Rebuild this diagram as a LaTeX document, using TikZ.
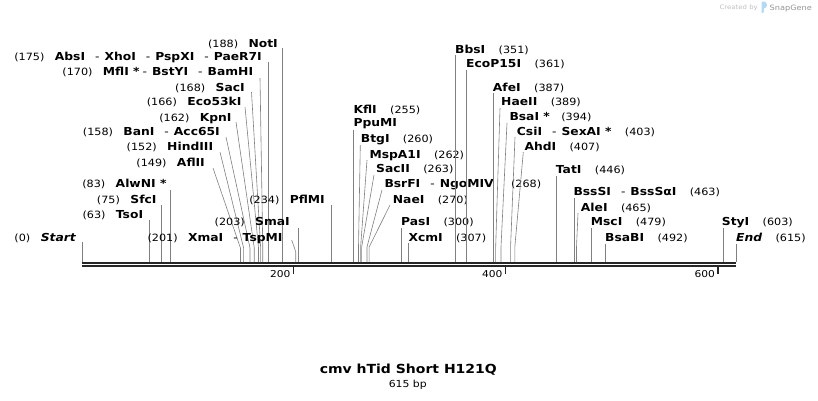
\documentclass[tikz,border=0pt]{standalone}
\usepackage{fontspec}
\usetikzlibrary{calc, positioning}
\newfontfamily\snapfont[FakeStretch=1.12]{DejaVu Sans}
\colorlet{colour_line}{black!50}
\colorlet{colour_dna}{black!85}
\definecolor{colour_mark}{HTML}{B3D9F5}
\newcommand{\es}{\hspace{10pt}{\mdseries -}\hspace{5pt}}

\begin{document}
\begin{tikzpicture}
   [
      x=1pt, y=-1pt,
      enzyme/.style={font=\snapfont\bfseries\fontsize{11}{13}\selectfont, inner sep=0pt},
      cutpos/.style={font=\snapfont\fontsize{10}{12}\selectfont, inner sep=0pt},
      cut line/.style={colour_line, line width=0.6pt},
      backbone/.style={line width=2pt, colour_dna},
      scale tick/.style={line width=1.3pt, colour_dna},
      tick label/.style={font=\snapfont\fontsize{9.5}{11}\selectfont, inner sep=0pt},
   ]
   \useasboundingbox (0,0) rectangle (818,400);

   % =======================================================
   % Cut sites on the sequence (bp -> px)
   % =======================================================
   \begin{scope}[xshift=82pt, x=1.06341pt]
      \coordinate (sStart) at (0,262);
      \coordinate (sTsoI) at (63,262);
      \coordinate (sSfcI) at (75,262);
      \coordinate (sAlwNI) at (83,262);
      \coordinate (sAflII) at (149,262);
      \coordinate (sHindIII) at (152,262);
      \coordinate (sBanI) at (158,262);
      \coordinate (sKpnI) at (162,262);
      \coordinate (sEco53kI) at (166,262);
      \coordinate (sSacI) at (168,262);
      \coordinate (sMflI) at (170,262);
      \coordinate (sAbsI) at (175,262);
      \coordinate (sNotI) at (188,262);
      \coordinate (sXmaI) at (201,262);
      \coordinate (sSmaI) at (203,262);
      \coordinate (sPflMI) at (234,262);
      \coordinate (sKflI) at (255,262);
      \coordinate (sBtgI) at (260,262);
      \coordinate (sMspA1I) at (262,262);
      \coordinate (sSacII) at (263,262);
      \coordinate (sBsrFI) at (268,262);
      \coordinate (sNaeI) at (270,262);
      \coordinate (sPasI) at (300,262);
      \coordinate (sXcmI) at (307,262);
      \coordinate (sBbsI) at (351,262);
      \coordinate (sEcoP15I) at (361,262);
      \coordinate (sAfeI) at (387,262);
      \coordinate (sHaeII) at (389,262);
      \coordinate (sBsaI) at (394,262);
      \coordinate (sCsiI) at (403,262);
      \coordinate (sAhdI) at (407,262);
      \coordinate (sTatI) at (446,262);
      \coordinate (sBssSI) at (463,262);
      \coordinate (sAleI) at (465,262);
      \coordinate (sMscI) at (479,262);
      \coordinate (sBsaBI) at (492,262);
      \coordinate (sStyI) at (603,262);
      \coordinate (sEnd) at (615,262);
   \end{scope}

   % =======================================================
   % Backbone and scale
   % =======================================================
   \draw[backbone] ($(sStart)+(0,1)$) -- ($(sEnd)+(0,1)$);
   \draw[backbone] ($(sStart)+(0,4)$) -- ($(sEnd)+(0,4)$);

   \coordinate (t200) at (293.7,267);
   \coordinate (t400) at (505.5,267);
   \coordinate (t600) at (718,267);
   \draw[scale tick] (t200) -- ++(0,6.5);
   \draw[scale tick] (t400) -- ++(0,6.5);
   \draw[scale tick] (t600) -- ++(0,6.5);
   \node[tick label, anchor=base east] (l200) at ($(t200)+(-3,10.5)$) {200};
   \node[tick label, anchor=base east] (l400) at ($(t400)+(-3,10.5)$) {400};
   \node[tick label, anchor=base east] (l600) at ($(t600)+(-3,10.5)$) {600};

   % =======================================================
   % Labels left of their sites
   % =======================================================
   \node[enzyme, anchor=base east] (nNotI) at (278,47.3) {NotI};
   \node[cutpos, base left=10pt of nNotI] (pNotI) {(188)};
   \draw[cut line] ($(sNotI |- nNotI.base)+(0,1)$) -- (sNotI);

   \node[enzyme, anchor=base east] (nAbsI) at (262,60) {AbsI\es XhoI\es PspXI\es PaeR7I};
   \node[cutpos, base left=10pt of nAbsI] (pAbsI) {(175)};
   \draw[cut line] ($(sAbsI |- nAbsI.base)+(0,2)$) -- (sAbsI);

   \node[enzyme, anchor=base east] (nMflI) at (253.3,75.7) {MflI *\hspace{3pt}{\mdseries -}\hspace{5pt}BstYI\es BamHI};
   \node[cutpos, base left=10pt of nMflI] (pMflI) {(170)};
   \draw[cut line] (nMflI.base east) ++(6.7,2.3) -- ($(sMflI)+(0,-14)$) -- (sMflI);

   \node[enzyme, anchor=base east] (nSacI) at (245,91.3) {SacI};
   \node[cutpos, base left=10pt of nSacI] (pSacI) {(168)};
   \draw[cut line] (nSacI.base east) ++(6.5,0.7) -- ($(sSacI)+(0,-14)$) -- (sSacI);

   \node[enzyme, anchor=base east] (nEco53kI) at (241.7,105.7) {Eco53kI};
   \node[cutpos, base left=10pt of nEco53kI] (pEco53kI) {(166)};
   \draw[cut line] (nEco53kI.base east) ++(3.3,1.3) -- ($(sEco53kI)+(0,-14)$) -- (sEco53kI);

   \node[enzyme, anchor=base east] (nKpnI) at (231.7,121.3) {KpnI};
   \node[cutpos, base left=10pt of nKpnI] (pKpnI) {(162)};
   \draw[cut line] (nKpnI.base east) ++(4.3,0.7) -- ($(sKpnI)+(0,-14)$) -- (sKpnI);

   \node[enzyme, anchor=base east] (nBanI) at (220,135.7) {BanI\es Acc65I};
   \node[cutpos, base left=10pt of nBanI] (pBanI) {(158)};
   \draw[cut line] (nBanI.base east) ++(6,1.3) -- ($(sBanI)+(0,-14)$) -- (sBanI);

   \node[enzyme, anchor=base east] (nHindIII) at (213.3,150.7) {HindIII};
   \node[cutpos, base left=10pt of nHindIII] (pHindIII) {(152)};
   \draw[cut line] (nHindIII.base east) ++(6.7,1.3) -- ($(sHindIII)+(0,-14)$) -- (sHindIII);

   \node[enzyme, anchor=base east] (nAflII) at (205,166.7) {AflII};
   \node[cutpos, base left=10pt of nAflII] (pAflII) {(149)};
   \draw[cut line] (nAflII.base east) ++(8,1.3) -- ($(sAflII)+(0,-14)$) -- (sAflII);

   \node[enzyme, anchor=base east] (nAlwNI) at (166.7,187.3) {AlwNI *};
   \node[cutpos, base left=10pt of nAlwNI] (pAlwNI) {(83)};
   \draw[cut line] ($(sAlwNI |- nAlwNI.base)+(0,2.5)$) -- (sAlwNI);

   \node[enzyme, anchor=base east] (nSfcI) at (156.7,203.3) {SfcI};
   \node[cutpos, base left=10pt of nSfcI] (pSfcI) {(75)};
   \draw[cut line] ($(sSfcI |- nSfcI.base)+(0,1.7)$) -- (sSfcI);

   \node[enzyme, anchor=base east] (nTsoI) at (143.3,218) {TsoI};
   \node[cutpos, base left=10pt of nTsoI] (pTsoI) {(63)};
   \draw[cut line] ($(sTsoI |- nTsoI.base)+(0,2)$) -- (sTsoI);

   \node[enzyme, anchor=base east] (nStart) at (76,241.7) {\itshape Start};
   \node[cutpos, base left=10pt of nStart] (pStart) {(0)};
   \draw[cut line] ($(sStart |- nStart.base)+(0,0.5)$) -- (sStart);

   \node[enzyme, anchor=base east] (nPflMI) at (325,203.3) {PflMI};
   \node[cutpos, base left=10pt of nPflMI] (pPflMI) {(234)};
   \draw[cut line] ($(sPflMI |- nPflMI.base)+(0,1.7)$) -- (sPflMI);

   \node[enzyme, anchor=base east] (nSmaI) at (290,225.7) {SmaI};
   \node[cutpos, base left=10pt of nSmaI] (pSmaI) {(203)};
   \draw[cut line] ($(sSmaI |- nSmaI.base)+(0,2.3)$) -- (sSmaI);

   \node[enzyme, anchor=base east] (nXmaI) at (282.7,241.7) {XmaI\es TspMI};
   \node[cutpos, base left=10pt of nXmaI] (pXmaI) {(201)};
   \draw[cut line] (nXmaI.base east) ++(9,-1.7) -- ($(sXmaI)+(0,-10.3)$) -- (sXmaI);

   % =======================================================
   % Labels right of their sites
   % =======================================================
   \node[enzyme, anchor=base west] (nKflI) at (353.3,113.3) {KflI};
   \node[cutpos, base right=13pt of nKflI] (pKflI) {(255)};
   \node[enzyme, anchor=base west] (nPpuMI) at (353.3,126.7) {PpuMI};
   \draw[cut line] ($(sKflI |- nPpuMI.base)+(0,3.3)$) -- (sKflI);

   \node[enzyme, anchor=base west] (nBtgI) at (360.7,142.3) {BtgI};
   \node[cutpos, base right=13pt of nBtgI] (pBtgI) {(260)};
   \draw[cut line] (nBtgI.base west) ++(-0.4,2.7) -- ($(sBtgI)+(0,-15)$) -- (sBtgI);

   \node[enzyme, anchor=base west] (nMspA1I) at (369.3,158) {MspA1I};
   \node[cutpos, base right=13pt of nMspA1I] (pMspA1I) {(262)};
   \draw[cut line] (nMspA1I.base west) ++(-2.3,2) -- ($(sMspA1I)+(0,-15)$) -- (sMspA1I);

   \node[enzyme, anchor=base west] (nSacII) at (376,172.3) {SacII};
   \node[cutpos, base right=13pt of nSacII] (pSacII) {(263)};
   \draw[cut line] (nSacII.base west) ++(-2,2.7) -- ($(sSacII)+(0,-15)$) -- (sSacII);

   \node[enzyme, anchor=base west] (nBsrFI) at (384.3,187.3) {BsrFI\es NgoMIV};
   \node[cutpos, base right=17pt of nBsrFI] (pBsrFI) {(268)};
   \draw[cut line] (nBsrFI.base west) ++(-2.3,2.7) -- ($(sBsrFI)+(0,-15)$) -- (sBsrFI);

   \node[enzyme, anchor=base west] (nNaeI) at (392.7,203.3) {NaeI};
   \node[cutpos, base right=13pt of nNaeI] (pNaeI) {(270)};
   \draw[cut line] (nNaeI.base west) ++(-2.7,1.7) -- ($(sNaeI)+(0,-15)$) -- (sNaeI);

   \node[enzyme, anchor=base west] (nPasI) at (401,225) {PasI};
   \node[cutpos, base right=13pt of nPasI] (pPasI) {(300)};
   \draw[cut line] ($(sPasI |- nPasI.base)+(0,3)$) -- (sPasI);

   \node[enzyme, anchor=base west] (nXcmI) at (408.3,241.3) {XcmI};
   \node[cutpos, base right=13pt of nXcmI] (pXcmI) {(307)};
   \draw[cut line] ($(sXcmI |- nXcmI.base)+(0,1.7)$) -- (sXcmI);

   \node[enzyme, anchor=base west] (nBbsI) at (455,53.3) {BbsI};
   \node[cutpos, base right=13pt of nBbsI] (pBbsI) {(351)};
   \draw[cut line] ($(sBbsI |- nBbsI.base)+(0,1.7)$) -- (sBbsI);

   \node[enzyme, anchor=base west] (nEcoP15I) at (466,67.3) {EcoP15I};
   \node[cutpos, base right=13pt of nEcoP15I] (pEcoP15I) {(361)};
   \draw[cut line] ($(sEcoP15I |- nEcoP15I.base)+(0,2.7)$) -- (sEcoP15I);

   \node[enzyme, anchor=base west] (nAfeI) at (492.7,91.3) {AfeI};
   \node[cutpos, base right=13pt of nAfeI] (pAfeI) {(387)};
   \draw[cut line] ($(sAfeI |- nAfeI.base)+(0,1.7)$) -- (sAfeI);

   \node[enzyme, anchor=base west] (nHaeII) at (501,105.7) {HaeII};
   \node[cutpos, base right=13pt of nHaeII] (pHaeII) {(389)};
   \draw[cut line] (nHaeII.base west) ++(-1,2.3) -- ($(sHaeII)+(0,-15)$) -- (sHaeII);

   \node[enzyme, anchor=base west] (nBsaI) at (509.3,120.7) {BsaI *};
   \node[cutpos, base right=11pt of nBsaI] (pBsaI) {(394)};
   \draw[cut line] (nBsaI.base west) ++(-2.3,2.3) -- ($(sBsaI)+(0,-15)$) -- (sBsaI);

   \node[enzyme, anchor=base west] (nCsiI) at (516.7,135.7) {CsiI\es SexAI *};
   \node[cutpos, base right=13pt of nCsiI] (pCsiI) {(403)};
   \draw[cut line] (nCsiI.base west) ++(-1.7,1.3) -- ($(sCsiI)+(0,-15)$) -- (sCsiI);

   \node[enzyme, anchor=base west] (nAhdI) at (524.3,150) {AhdI};
   \node[cutpos, base right=13pt of nAhdI] (pAhdI) {(407)};
   \draw[cut line] (nAhdI.base west) ++(-1,2) -- ($(sAhdI)+(0,-15)$) -- (sAhdI);

   \node[enzyme, anchor=base west] (nTatI) at (555.7,173.3) {TatI};
   \node[cutpos, base right=13pt of nTatI] (pTatI) {(446)};
   \draw[cut line] ($(sTatI |- nTatI.base)+(0,2.7)$) -- (sTatI);

   \node[enzyme, anchor=base west] (nBssSI) at (573.3,195.7) {BssSI\es BssSαI};
   \node[cutpos, base right=13pt of nBssSI] (pBssSI) {(463)};
   \draw[cut line] ($(sBssSI |- nBssSI.base)+(0,2.3)$) -- (sBssSI);

   \node[enzyme, anchor=base west] (nAleI) at (580.7,211.3) {AleI};
   \node[cutpos, base right=13pt of nAleI] (pAleI) {(465)};
   \draw[cut line] (nAleI.base west) ++(-2.7,1.7) -- ($(sAleI)+(0,-15)$) -- (sAleI);

   \node[enzyme, anchor=base west] (nMscI) at (590.7,225.7) {MscI};
   \node[cutpos, base right=13pt of nMscI] (pMscI) {(479)};
   \draw[cut line] ($(sMscI |- nMscI.base)+(0,2.3)$) -- (sMscI);

   \node[enzyme, anchor=base west] (nBsaBI) at (605,241.3) {BsaBI};
   \node[cutpos, base right=13pt of nBsaBI] (pBsaBI) {(492)};
   \draw[cut line] ($(sBsaBI |- nBsaBI.base)+(0,2.7)$) -- (sBsaBI);

   \node[enzyme, anchor=base west] (nStyI) at (721.7,225.7) {StyI};
   \node[cutpos, base right=13pt of nStyI] (pStyI) {(603)};
   \draw[cut line] ($(sStyI |- nStyI.base)+(0,2.3)$) -- (sStyI);

   \node[enzyme, anchor=base west] (nEnd) at (736,241.3) {\itshape End};
   \node[cutpos, base right=13pt of nEnd] (pEnd) {(615)};
   \draw[cut line] ($(sEnd |- nEnd.base)+(0,2.7)$) -- (sEnd);

   % =======================================================
   % Title and watermark
   % =======================================================
   \node[font=\snapfont\bfseries\fontsize{12.5}{15}\selectfont, inner sep=0pt, anchor=base] (title) at (408.3,373.6) {cmv hTid Short H121Q};
   \node[font=\snapfont\fontsize{9.7}{11}\selectfont, inner sep=0pt, anchor=base] (length) at (407.8,387) {615 bp};

   \node[font=\snapfont\fontsize{6.2}{7}\selectfont, text=black!25, inner sep=0pt, anchor=base east] (created) at (758,9.5) {Created by};
   \fill[colour_mark] (761.5,1.5) -- (761.5,13.5) -- (763.8,12) -- (763.8,8.5) .. controls (768,8.5) and (768,1.5) .. (763.8,1.5) -- cycle;
   \node[font=\snapfont\fontsize{7.3}{8}\selectfont, text=black!42, inner sep=0pt, anchor=base west] (snapgene) at (769.5,10) {SnapGene};

\end{tikzpicture}
\end{document}
